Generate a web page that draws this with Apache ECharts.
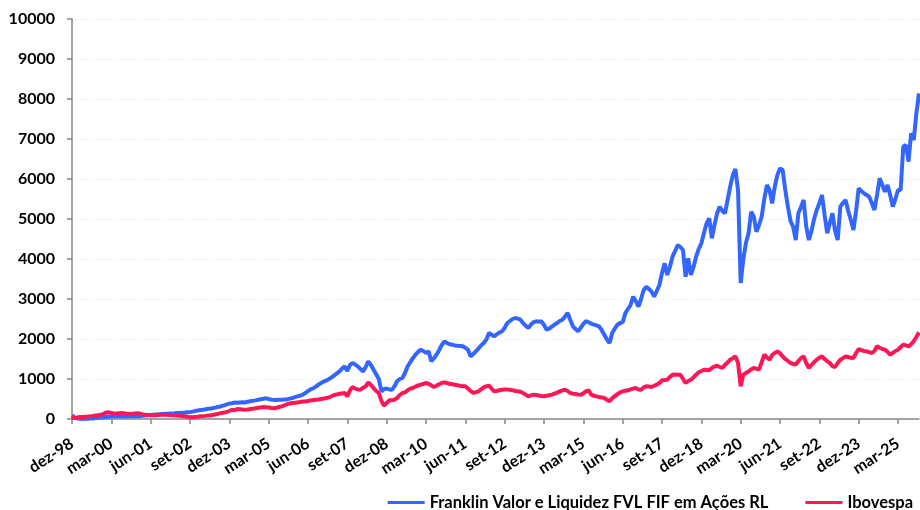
<!DOCTYPE html>
<html>
<head>
<meta charset="utf-8">
<script src="https://cdn.jsdelivr.net/npm/echarts@6/dist/echarts.min.js"></script>
<style>
  html, body { margin: 0; padding: 0; background: #fff; }
  #main { width: 920px; height: 510px; }
</style>
</head>
<body>
<div id="main"></div>
<script>
// meses (dez-98 .. nov-25), rotulos mostrados a cada 15 meses
var monthNames = ['jan', 'fev', 'mar', 'abr', 'mai', 'jun', 'jul', 'ago', 'set', 'out', 'nov', 'dez'];
var firstYear = 1998, firstMonth = 11, monthCount = 324;
var categories = [];
for (var i = 0; i < monthCount; i++) {
    var mi = (firstMonth + i) % 12;
    var yy = (firstYear + Math.floor((firstMonth + i) / 12)) % 100;
    categories.push(monthNames[mi] + '-' + (yy < 10 ? '0' + yy : '' + yy));
}

var seriesNames = ['Franklin Valor e Liquidez FVL FIF em Ações RL', 'Ibovespa'];

// valores (fim de mes, aprox.)
var franklin = [
    90, 35, 15, 5, 3, 5, 8, 10, 15, 22, 30, 40,
    45, 52, 58, 60, 62, 66, 67, 65, 64, 66, 68, 67,
    67, 70, 75, 80, 86, 92, 98, 104, 110, 116, 125, 128,
    132, 135, 140, 142, 148, 152, 158, 162, 167, 172, 185, 200,
    215, 225, 233, 245, 255, 262, 275, 290, 305, 320, 340, 365,
    385, 395, 410, 405, 412, 418, 415, 430, 445, 455, 466, 480,
    495, 508, 516, 500, 483, 478, 475, 480, 483, 490, 495, 510,
    525, 545, 565, 585, 608, 650, 700, 740, 770, 810, 860, 900,
    935, 965, 1000, 1040, 1090, 1140, 1190, 1260, 1316, 1200, 1350, 1400,
    1360, 1316, 1250, 1190, 1300, 1440, 1350, 1230, 1120, 1000, 690, 750,
    760, 740, 733, 817, 950, 1000, 1025, 1150, 1317, 1420, 1520, 1608,
    1680, 1733, 1700, 1650, 1692, 1442, 1520, 1608, 1720, 1850, 1942, 1900,
    1870, 1858, 1840, 1830, 1825, 1817, 1780, 1733, 1567, 1620, 1692, 1760,
    1840, 1900, 1980, 2150, 2110, 2067, 2120, 2160, 2192, 2280, 2400, 2450,
    2500, 2525, 2510, 2483, 2400, 2330, 2275, 2360, 2420, 2442, 2430, 2442,
    2350, 2233, 2260, 2310, 2358, 2400, 2450, 2483, 2560, 2650, 2480, 2317,
    2250, 2192, 2280, 2380, 2450, 2420, 2382, 2360, 2340, 2317, 2220, 2107,
    1990, 1900, 2150, 2260, 2357, 2400, 2420, 2642, 2750, 2850, 3058, 2950,
    2808, 3000, 3225, 3308, 3250, 3183, 3058, 3200, 3350, 3650, 3892, 3600,
    3800, 4058, 4200, 4350, 4300, 4225, 3558, 4017, 3600, 3800, 4058, 4250,
    4392, 4650, 4892, 5017, 4517, 4850, 5142, 5308, 5200, 5142, 5475, 5808,
    6100, 6250, 5700, 3400, 4000, 4400, 4642, 5183, 5058, 4683, 4850, 5058,
    5500, 5850, 5725, 5392, 5808, 6100, 6267, 6225, 5725, 5308, 4950, 4808,
    4475, 5142, 5300, 5475, 4808, 4475, 4700, 5000, 5225, 5392, 5600, 5100,
    4642, 4900, 5142, 4700, 4475, 5308, 5400, 5475, 5200, 4975, 4725, 5200,
    5767, 5700, 5642, 5600, 5558, 5400, 5225, 5600, 6017, 5850, 5683, 5850,
    5600, 5308, 5500, 5725, 5725, 6808, 6850, 6433, 7142, 6975, 7642, 8142
];

var ibovespa = [
    25, 30, 38, 48, 52, 58, 62, 67, 75, 85, 95, 105,
    130, 160, 167, 150, 133, 140, 145, 150, 140, 130, 125, 130,
    138, 142, 130, 115, 108, 100, 95, 92, 95, 100, 105, 108,
    105, 100, 95, 92, 88, 82, 75, 67, 55, 45, 42, 50,
    58, 67, 72, 78, 85, 92, 105, 120, 135, 150, 160, 175,
    200, 233, 216, 250, 245, 238, 233, 240, 250, 258, 266, 280,
    290, 300, 295, 285, 275, 270, 280, 300, 316, 340, 370, 390,
    400, 405, 415, 425, 435, 440, 450, 465, 475, 483, 490, 500,
    510, 525, 540, 570, 600, 615, 630, 640, 650, 566, 720, 800,
    760, 740, 733, 780, 816, 916, 850, 775, 700, 650, 450, 333,
    400, 466, 470, 483, 525, 600, 650, 666, 720, 760, 775, 810,
    840, 858, 880, 900, 880, 840, 800, 830, 870, 900, 917, 900,
    880, 870, 858, 845, 830, 820, 817, 760, 700, 650, 670, 692,
    740, 790, 820, 833, 760, 692, 700, 720, 733, 740, 735, 733,
    720, 700, 692, 680, 650, 610, 567, 590, 608, 600, 585, 575,
    567, 580, 595, 610, 633, 660, 690, 715, 733, 700, 650, 633,
    625, 615, 608, 640, 692, 717, 608, 580, 565, 550, 540, 525,
    480, 442, 520, 570, 620, 667, 690, 705, 717, 740, 760, 775,
    740, 733, 790, 817, 810, 800, 830, 858, 900, 967, 975, 983,
    1050, 1108, 1110, 1108, 1108, 1000, 900, 950, 983, 1040, 1108, 1170,
    1200, 1233, 1225, 1217, 1275, 1310, 1333, 1300, 1275, 1350, 1417, 1483,
    1520, 1567, 1400, 817, 1108, 1150, 1192, 1240, 1275, 1260, 1233, 1420,
    1608, 1540, 1483, 1600, 1650, 1692, 1640, 1567, 1500, 1450, 1400, 1380,
    1358, 1450, 1520, 1567, 1400, 1275, 1350, 1420, 1483, 1530, 1567, 1500,
    1442, 1400, 1320, 1300, 1400, 1483, 1520, 1567, 1550, 1530, 1525, 1650,
    1750, 1720, 1700, 1692, 1670, 1650, 1700, 1817, 1780, 1750, 1733, 1680,
    1608, 1650, 1700, 1733, 1800, 1858, 1840, 1817, 1870, 1942, 2050, 2167
];

var colors = ['#3366ff', '#ff1654'];
var fontFamily = 'Lato, "Open Sans", sans-serif';

var myChart = echarts.init(document.getElementById('main'));

var option = {
    animation: false,
    color: colors,
    grid: {
        left: 72,
        right: 1,
        top: 19,
        bottom: 91
    },
    legend: {
        data: seriesNames,
        right: 2,
        top: 489,
        icon: 'rect',
        itemWidth: 37,
        itemHeight: 3,
        itemGap: 37,
        textStyle: {
            fontFamily: fontFamily,
            fontWeight: 'bold',
            fontSize: 16.5,
            color: '#000'
        }
    },
    xAxis: {
        type: 'category',
        data: categories,
        boundaryGap: false,
        axisLine: { lineStyle: { color: '#868686', width: 1.5 } },
        axisTick: {
            interval: 14,
            length: 5,
            lineStyle: { color: '#868686', width: 1.5 }
        },
        axisLabel: {
            interval: 14,
            rotate: 33,
            margin: 23,
            color: '#000',
            fontFamily: fontFamily,
            fontWeight: 'bold',
            fontSize: 16
        },
        splitLine: { show: false }
    },
    yAxis: {
        type: 'value',
        min: 0,
        max: 10000,
        interval: 1000,
        axisLine: { show: true, lineStyle: { color: '#868686', width: 1.5 } },
        axisTick: { show: true, length: 5, lineStyle: { color: '#868686', width: 1.5 } },
        axisLabel: {
            margin: 17,
            color: '#000',
            fontFamily: fontFamily,
            fontWeight: 'bold',
            fontSize: 16,
            formatter: function (v) { return String(v); }
        },
        splitLine: {
            lineStyle: { color: '#e2e2e2', type: [1, 2], width: 1 }
        }
    },
    series: [
        {
            name: seriesNames[0],
            type: 'line',
            data: franklin,
            showSymbol: false,
            lineStyle: { width: 4, color: colors[0] }
        },
        {
            name: seriesNames[1],
            type: 'line',
            data: ibovespa,
            showSymbol: false,
            lineStyle: { width: 4, color: colors[1] }
        }
    ]
};

myChart.setOption(option);
</script>
</body>
</html>
